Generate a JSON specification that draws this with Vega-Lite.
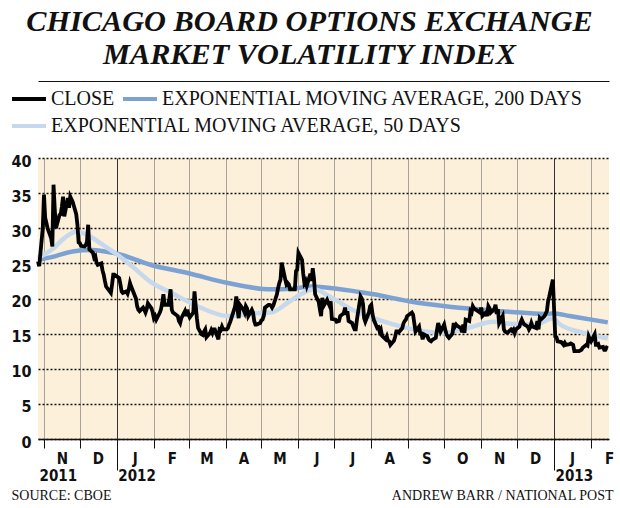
{
  "$schema": "https://vega.github.io/schema/vega-lite/v6.json",
  "width": 571,
  "height": 281,
  "padding": {"left": 10, "top": 6, "right": 6, "bottom": 6},
  "background": "white",
  "title": {
    "text": ["CHICAGO BOARD OPTIONS EXCHANGE", "MARKET VOLATILITY INDEX"],
    "font": "Liberation Serif",
    "fontSize": 30.3,
    "fontStyle": "italic",
    "fontWeight": "bold",
    "color": "#111111",
    "lineHeight": 33,
    "anchor": "middle",
    "dx": -14,
    "offset": 10
  },
  "config": {
    "view": {"fill": "#fdf0da", "stroke": null},
    "axis": {
      "labelFont": "Liberation Sans Narrow, DejaVu Sans Condensed, Roboto, sans-serif",
      "labelFontWeight": "bold",
      "labelColor": "#111111",
      "labelFlush": false,
      "labelOverlap": false,
      "labelBound": false
    },
    "legend": {
      "orient": "none",
      "direction": "horizontal",
      "title": null,
      "padding": 0,
      "symbolType": "stroke",
      "symbolStrokeWidth": 4,
      "symbolSize": 1150,
      "labelFont": "Liberation Serif",
      "labelFontSize": 20,
      "labelColor": "#111111",
      "labelOffset": 3,
      "labelLimit": 0,
      "columnPadding": 0
    }
  },
  "data": {
    "values": [
      {"date": "2011-10-27", "series": "close", "value": 25.3},
      {"date": "2011-10-28", "series": "close", "value": 24.6},
      {"date": "2011-10-31", "series": "close", "value": 30.0},
      {"date": "2011-11-01", "series": "close", "value": 34.8},
      {"date": "2011-11-02", "series": "close", "value": 31.5},
      {"date": "2011-11-03", "series": "close", "value": 30.8},
      {"date": "2011-11-04", "series": "close", "value": 30.0},
      {"date": "2011-11-07", "series": "close", "value": 28.6},
      {"date": "2011-11-08", "series": "close", "value": 27.4},
      {"date": "2011-11-09", "series": "close", "value": 36.2},
      {"date": "2011-11-10", "series": "close", "value": 32.8},
      {"date": "2011-11-11", "series": "close", "value": 30.0},
      {"date": "2011-11-14", "series": "close", "value": 31.9},
      {"date": "2011-11-15", "series": "close", "value": 32.0},
      {"date": "2011-11-16", "series": "close", "value": 33.1},
      {"date": "2011-11-17", "series": "close", "value": 34.5},
      {"date": "2011-11-18", "series": "close", "value": 31.7},
      {"date": "2011-11-21", "series": "close", "value": 34.3},
      {"date": "2011-11-22", "series": "close", "value": 32.9},
      {"date": "2011-11-23", "series": "close", "value": 34.5},
      {"date": "2011-11-25", "series": "close", "value": 33.8},
      {"date": "2011-11-28", "series": "close", "value": 32.0},
      {"date": "2011-11-29", "series": "close", "value": 30.5},
      {"date": "2011-11-30", "series": "close", "value": 28.0},
      {"date": "2011-12-01", "series": "close", "value": 27.9},
      {"date": "2011-12-02", "series": "close", "value": 27.5},
      {"date": "2011-12-05", "series": "close", "value": 27.4},
      {"date": "2011-12-06", "series": "close", "value": 27.6},
      {"date": "2011-12-07", "series": "close", "value": 28.1},
      {"date": "2011-12-08", "series": "close", "value": 30.5},
      {"date": "2011-12-09", "series": "close", "value": 27.0},
      {"date": "2011-12-12", "series": "close", "value": 26.5},
      {"date": "2011-12-13", "series": "close", "value": 25.8},
      {"date": "2011-12-14", "series": "close", "value": 26.0},
      {"date": "2011-12-15", "series": "close", "value": 25.1},
      {"date": "2011-12-16", "series": "close", "value": 24.8},
      {"date": "2011-12-19", "series": "close", "value": 25.0},
      {"date": "2011-12-20", "series": "close", "value": 24.0},
      {"date": "2011-12-21", "series": "close", "value": 23.4},
      {"date": "2011-12-22", "series": "close", "value": 22.5},
      {"date": "2011-12-23", "series": "close", "value": 21.7},
      {"date": "2011-12-27", "series": "close", "value": 20.8},
      {"date": "2011-12-28", "series": "close", "value": 22.0},
      {"date": "2011-12-29", "series": "close", "value": 23.4},
      {"date": "2011-12-30", "series": "close", "value": 23.4},
      {"date": "2012-01-03", "series": "close", "value": 22.9},
      {"date": "2012-01-04", "series": "close", "value": 22.0},
      {"date": "2012-01-05", "series": "close", "value": 21.0},
      {"date": "2012-01-06", "series": "close", "value": 20.8},
      {"date": "2012-01-09", "series": "close", "value": 21.0},
      {"date": "2012-01-10", "series": "close", "value": 20.7},
      {"date": "2012-01-11", "series": "close", "value": 21.3},
      {"date": "2012-01-12", "series": "close", "value": 22.2},
      {"date": "2012-01-13", "series": "close", "value": 21.7},
      {"date": "2012-01-17", "series": "close", "value": 20.0},
      {"date": "2012-01-18", "series": "close", "value": 18.9},
      {"date": "2012-01-19", "series": "close", "value": 18.4},
      {"date": "2012-01-20", "series": "close", "value": 18.2},
      {"date": "2012-01-23", "series": "close", "value": 18.7},
      {"date": "2012-01-24", "series": "close", "value": 18.4},
      {"date": "2012-01-25", "series": "close", "value": 18.0},
      {"date": "2012-01-26", "series": "close", "value": 18.5},
      {"date": "2012-01-27", "series": "close", "value": 19.3},
      {"date": "2012-01-30", "series": "close", "value": 18.6},
      {"date": "2012-01-31", "series": "close", "value": 18.0},
      {"date": "2012-02-01", "series": "close", "value": 17.2},
      {"date": "2012-02-02", "series": "close", "value": 17.5},
      {"date": "2012-02-03", "series": "close", "value": 17.0},
      {"date": "2012-02-06", "series": "close", "value": 18.0},
      {"date": "2012-02-07", "series": "close", "value": 18.5},
      {"date": "2012-02-08", "series": "close", "value": 19.4},
      {"date": "2012-02-09", "series": "close", "value": 20.6},
      {"date": "2012-02-10", "series": "close", "value": 19.1},
      {"date": "2012-02-13", "series": "close", "value": 19.1},
      {"date": "2012-02-14", "series": "close", "value": 20.0},
      {"date": "2012-02-15", "series": "close", "value": 21.3},
      {"date": "2012-02-16", "series": "close", "value": 18.4},
      {"date": "2012-02-17", "series": "close", "value": 18.0},
      {"date": "2012-02-21", "series": "close", "value": 17.5},
      {"date": "2012-02-22", "series": "close", "value": 16.8},
      {"date": "2012-02-23", "series": "close", "value": 16.5},
      {"date": "2012-02-24", "series": "close", "value": 17.2},
      {"date": "2012-02-27", "series": "close", "value": 18.2},
      {"date": "2012-02-28", "series": "close", "value": 17.5},
      {"date": "2012-02-29", "series": "close", "value": 18.4},
      {"date": "2012-03-01", "series": "close", "value": 17.7},
      {"date": "2012-03-02", "series": "close", "value": 17.3},
      {"date": "2012-03-05", "series": "close", "value": 18.0},
      {"date": "2012-03-06", "series": "close", "value": 21.0},
      {"date": "2012-03-07", "series": "close", "value": 19.0},
      {"date": "2012-03-08", "series": "close", "value": 17.2},
      {"date": "2012-03-09", "series": "close", "value": 15.8},
      {"date": "2012-03-12", "series": "close", "value": 14.9},
      {"date": "2012-03-13", "series": "close", "value": 14.8},
      {"date": "2012-03-14", "series": "close", "value": 15.3},
      {"date": "2012-03-15", "series": "close", "value": 15.6},
      {"date": "2012-03-16", "series": "close", "value": 14.5},
      {"date": "2012-03-19", "series": "close", "value": 15.1},
      {"date": "2012-03-20", "series": "close", "value": 15.5},
      {"date": "2012-03-21", "series": "close", "value": 15.1},
      {"date": "2012-03-22", "series": "close", "value": 15.6},
      {"date": "2012-03-23", "series": "close", "value": 15.6},
      {"date": "2012-03-26", "series": "close", "value": 14.2},
      {"date": "2012-03-27", "series": "close", "value": 15.6},
      {"date": "2012-03-28", "series": "close", "value": 15.5},
      {"date": "2012-03-29", "series": "close", "value": 16.0},
      {"date": "2012-03-30", "series": "close", "value": 15.6},
      {"date": "2012-04-02", "series": "close", "value": 15.6},
      {"date": "2012-04-03", "series": "close", "value": 15.8},
      {"date": "2012-04-04", "series": "close", "value": 16.3},
      {"date": "2012-04-05", "series": "close", "value": 16.7},
      {"date": "2012-04-09", "series": "close", "value": 18.9},
      {"date": "2012-04-10", "series": "close", "value": 20.3},
      {"date": "2012-04-11", "series": "close", "value": 18.5},
      {"date": "2012-04-12", "series": "close", "value": 17.2},
      {"date": "2012-04-13", "series": "close", "value": 19.1},
      {"date": "2012-04-16", "series": "close", "value": 18.4},
      {"date": "2012-04-17", "series": "close", "value": 18.0},
      {"date": "2012-04-18", "series": "close", "value": 18.9},
      {"date": "2012-04-19", "series": "close", "value": 18.6},
      {"date": "2012-04-20", "series": "close", "value": 17.5},
      {"date": "2012-04-23", "series": "close", "value": 18.4},
      {"date": "2012-04-24", "series": "close", "value": 18.0},
      {"date": "2012-04-25", "series": "close", "value": 16.8},
      {"date": "2012-04-26", "series": "close", "value": 16.3},
      {"date": "2012-04-27", "series": "close", "value": 16.3},
      {"date": "2012-04-30", "series": "close", "value": 16.5},
      {"date": "2012-05-01", "series": "close", "value": 16.9},
      {"date": "2012-05-02", "series": "close", "value": 17.0},
      {"date": "2012-05-03", "series": "close", "value": 17.5},
      {"date": "2012-05-04", "series": "close", "value": 18.7},
      {"date": "2012-05-07", "series": "close", "value": 19.1},
      {"date": "2012-05-08", "series": "close", "value": 19.1},
      {"date": "2012-05-09", "series": "close", "value": 19.0},
      {"date": "2012-05-10", "series": "close", "value": 18.7},
      {"date": "2012-05-11", "series": "close", "value": 19.0},
      {"date": "2012-05-14", "series": "close", "value": 20.6},
      {"date": "2012-05-15", "series": "close", "value": 21.5},
      {"date": "2012-05-16", "series": "close", "value": 22.2},
      {"date": "2012-05-17", "series": "close", "value": 22.7},
      {"date": "2012-05-18", "series": "close", "value": 25.1},
      {"date": "2012-05-21", "series": "close", "value": 22.7},
      {"date": "2012-05-22", "series": "close", "value": 22.0},
      {"date": "2012-05-23", "series": "close", "value": 22.2},
      {"date": "2012-05-24", "series": "close", "value": 22.0},
      {"date": "2012-05-25", "series": "close", "value": 21.3},
      {"date": "2012-05-29", "series": "close", "value": 21.3},
      {"date": "2012-05-30", "series": "close", "value": 23.9},
      {"date": "2012-05-31", "series": "close", "value": 24.1},
      {"date": "2012-06-01", "series": "close", "value": 26.5},
      {"date": "2012-06-04", "series": "close", "value": 25.5},
      {"date": "2012-06-05", "series": "close", "value": 23.6},
      {"date": "2012-06-06", "series": "close", "value": 22.2},
      {"date": "2012-06-07", "series": "close", "value": 22.5},
      {"date": "2012-06-08", "series": "close", "value": 21.8},
      {"date": "2012-06-11", "series": "close", "value": 23.5},
      {"date": "2012-06-12", "series": "close", "value": 22.5},
      {"date": "2012-06-13", "series": "close", "value": 24.3},
      {"date": "2012-06-14", "series": "close", "value": 22.9},
      {"date": "2012-06-15", "series": "close", "value": 20.6},
      {"date": "2012-06-18", "series": "close", "value": 19.5},
      {"date": "2012-06-19", "series": "close", "value": 18.4},
      {"date": "2012-06-20", "series": "close", "value": 17.5},
      {"date": "2012-06-21", "series": "close", "value": 20.1},
      {"date": "2012-06-22", "series": "close", "value": 18.9},
      {"date": "2012-06-25", "series": "close", "value": 19.8},
      {"date": "2012-06-26", "series": "close", "value": 19.4},
      {"date": "2012-06-27", "series": "close", "value": 19.0},
      {"date": "2012-06-28", "series": "close", "value": 19.6},
      {"date": "2012-06-29", "series": "close", "value": 17.1},
      {"date": "2012-07-02", "series": "close", "value": 17.0},
      {"date": "2012-07-03", "series": "close", "value": 16.7},
      {"date": "2012-07-05", "series": "close", "value": 16.8},
      {"date": "2012-07-06", "series": "close", "value": 17.5},
      {"date": "2012-07-09", "series": "close", "value": 17.9},
      {"date": "2012-07-10", "series": "close", "value": 18.7},
      {"date": "2012-07-11", "series": "close", "value": 17.7},
      {"date": "2012-07-12", "series": "close", "value": 18.2},
      {"date": "2012-07-13", "series": "close", "value": 16.8},
      {"date": "2012-07-16", "series": "close", "value": 16.5},
      {"date": "2012-07-17", "series": "close", "value": 16.0},
      {"date": "2012-07-18", "series": "close", "value": 15.6},
      {"date": "2012-07-19", "series": "close", "value": 15.6},
      {"date": "2012-07-20", "series": "close", "value": 17.0},
      {"date": "2012-07-23", "series": "close", "value": 20.3},
      {"date": "2012-07-24", "series": "close", "value": 20.0},
      {"date": "2012-07-25", "series": "close", "value": 19.3},
      {"date": "2012-07-26", "series": "close", "value": 17.2},
      {"date": "2012-07-27", "series": "close", "value": 16.7},
      {"date": "2012-07-30", "series": "close", "value": 18.0},
      {"date": "2012-07-31", "series": "close", "value": 18.9},
      {"date": "2012-08-01", "series": "close", "value": 19.1},
      {"date": "2012-08-02", "series": "close", "value": 17.8},
      {"date": "2012-08-03", "series": "close", "value": 17.0},
      {"date": "2012-08-06", "series": "close", "value": 15.8},
      {"date": "2012-08-07", "series": "close", "value": 15.9},
      {"date": "2012-08-08", "series": "close", "value": 15.3},
      {"date": "2012-08-09", "series": "close", "value": 15.6},
      {"date": "2012-08-10", "series": "close", "value": 14.7},
      {"date": "2012-08-13", "series": "close", "value": 14.2},
      {"date": "2012-08-14", "series": "close", "value": 14.6},
      {"date": "2012-08-15", "series": "close", "value": 14.0},
      {"date": "2012-08-16", "series": "close", "value": 13.9},
      {"date": "2012-08-17", "series": "close", "value": 13.4},
      {"date": "2012-08-20", "series": "close", "value": 14.0},
      {"date": "2012-08-21", "series": "close", "value": 14.6},
      {"date": "2012-08-22", "series": "close", "value": 15.3},
      {"date": "2012-08-23", "series": "close", "value": 15.3},
      {"date": "2012-08-24", "series": "close", "value": 15.2},
      {"date": "2012-08-27", "series": "close", "value": 15.8},
      {"date": "2012-08-28", "series": "close", "value": 16.5},
      {"date": "2012-08-29", "series": "close", "value": 16.8},
      {"date": "2012-08-30", "series": "close", "value": 17.0},
      {"date": "2012-08-31", "series": "close", "value": 17.5},
      {"date": "2012-09-04", "series": "close", "value": 18.0},
      {"date": "2012-09-05", "series": "close", "value": 17.7},
      {"date": "2012-09-06", "series": "close", "value": 16.5},
      {"date": "2012-09-07", "series": "close", "value": 15.3},
      {"date": "2012-09-10", "series": "close", "value": 16.0},
      {"date": "2012-09-11", "series": "close", "value": 15.0},
      {"date": "2012-09-12", "series": "close", "value": 15.0},
      {"date": "2012-09-13", "series": "close", "value": 14.2},
      {"date": "2012-09-14", "series": "close", "value": 14.9},
      {"date": "2012-09-17", "series": "close", "value": 14.6},
      {"date": "2012-09-18", "series": "close", "value": 14.2},
      {"date": "2012-09-19", "series": "close", "value": 14.0},
      {"date": "2012-09-20", "series": "close", "value": 13.9},
      {"date": "2012-09-21", "series": "close", "value": 14.1},
      {"date": "2012-09-24", "series": "close", "value": 14.4},
      {"date": "2012-09-25", "series": "close", "value": 15.5},
      {"date": "2012-09-26", "series": "close", "value": 16.5},
      {"date": "2012-09-27", "series": "close", "value": 15.9},
      {"date": "2012-09-28", "series": "close", "value": 15.3},
      {"date": "2012-10-01", "series": "close", "value": 16.3},
      {"date": "2012-10-02", "series": "close", "value": 15.5},
      {"date": "2012-10-03", "series": "close", "value": 14.9},
      {"date": "2012-10-04", "series": "close", "value": 14.6},
      {"date": "2012-10-05", "series": "close", "value": 14.4},
      {"date": "2012-10-08", "series": "close", "value": 15.0},
      {"date": "2012-10-09", "series": "close", "value": 16.5},
      {"date": "2012-10-10", "series": "close", "value": 16.0},
      {"date": "2012-10-11", "series": "close", "value": 16.3},
      {"date": "2012-10-12", "series": "close", "value": 16.1},
      {"date": "2012-10-15", "series": "close", "value": 15.8},
      {"date": "2012-10-16", "series": "close", "value": 15.2},
      {"date": "2012-10-17", "series": "close", "value": 16.3},
      {"date": "2012-10-18", "series": "close", "value": 15.1},
      {"date": "2012-10-19", "series": "close", "value": 17.0},
      {"date": "2012-10-22", "series": "close", "value": 16.8},
      {"date": "2012-10-23", "series": "close", "value": 18.2},
      {"date": "2012-10-24", "series": "close", "value": 18.0},
      {"date": "2012-10-25", "series": "close", "value": 18.9},
      {"date": "2012-10-26", "series": "close", "value": 18.6},
      {"date": "2012-10-31", "series": "close", "value": 18.0},
      {"date": "2012-11-01", "series": "close", "value": 18.7},
      {"date": "2012-11-02", "series": "close", "value": 17.5},
      {"date": "2012-11-05", "series": "close", "value": 18.0},
      {"date": "2012-11-06", "series": "close", "value": 17.5},
      {"date": "2012-11-07", "series": "close", "value": 18.9},
      {"date": "2012-11-08", "series": "close", "value": 18.6},
      {"date": "2012-11-09", "series": "close", "value": 18.0},
      {"date": "2012-11-12", "series": "close", "value": 18.5},
      {"date": "2012-11-13", "series": "close", "value": 19.1},
      {"date": "2012-11-14", "series": "close", "value": 17.8},
      {"date": "2012-11-15", "series": "close", "value": 18.5},
      {"date": "2012-11-16", "series": "close", "value": 16.5},
      {"date": "2012-11-19", "series": "close", "value": 17.5},
      {"date": "2012-11-20", "series": "close", "value": 15.6},
      {"date": "2012-11-21", "series": "close", "value": 15.3},
      {"date": "2012-11-23", "series": "close", "value": 15.1},
      {"date": "2012-11-26", "series": "close", "value": 15.6},
      {"date": "2012-11-27", "series": "close", "value": 15.4},
      {"date": "2012-11-28", "series": "close", "value": 15.6},
      {"date": "2012-11-29", "series": "close", "value": 15.1},
      {"date": "2012-11-30", "series": "close", "value": 15.6},
      {"date": "2012-12-03", "series": "close", "value": 16.0},
      {"date": "2012-12-04", "series": "close", "value": 16.6},
      {"date": "2012-12-05", "series": "close", "value": 17.0},
      {"date": "2012-12-06", "series": "close", "value": 16.6},
      {"date": "2012-12-07", "series": "close", "value": 16.3},
      {"date": "2012-12-10", "series": "close", "value": 16.0},
      {"date": "2012-12-11", "series": "close", "value": 15.6},
      {"date": "2012-12-12", "series": "close", "value": 15.9},
      {"date": "2012-12-13", "series": "close", "value": 16.5},
      {"date": "2012-12-14", "series": "close", "value": 16.0},
      {"date": "2012-12-17", "series": "close", "value": 15.8},
      {"date": "2012-12-18", "series": "close", "value": 16.8},
      {"date": "2012-12-19", "series": "close", "value": 15.6},
      {"date": "2012-12-20", "series": "close", "value": 17.2},
      {"date": "2012-12-21", "series": "close", "value": 17.0},
      {"date": "2012-12-24", "series": "close", "value": 17.5},
      {"date": "2012-12-26", "series": "close", "value": 18.2},
      {"date": "2012-12-27", "series": "close", "value": 19.6},
      {"date": "2012-12-28", "series": "close", "value": 20.3},
      {"date": "2012-12-31", "series": "close", "value": 22.7},
      {"date": "2013-01-02", "series": "close", "value": 14.6},
      {"date": "2013-01-03", "series": "close", "value": 14.5},
      {"date": "2013-01-04", "series": "close", "value": 13.9},
      {"date": "2013-01-07", "series": "close", "value": 13.8},
      {"date": "2013-01-08", "series": "close", "value": 13.6},
      {"date": "2013-01-09", "series": "close", "value": 13.4},
      {"date": "2013-01-10", "series": "close", "value": 13.7},
      {"date": "2013-01-11", "series": "close", "value": 13.4},
      {"date": "2013-01-14", "series": "close", "value": 13.5},
      {"date": "2013-01-15", "series": "close", "value": 13.6},
      {"date": "2013-01-16", "series": "close", "value": 13.5},
      {"date": "2013-01-17", "series": "close", "value": 13.4},
      {"date": "2013-01-18", "series": "close", "value": 12.5},
      {"date": "2013-01-22", "series": "close", "value": 12.5},
      {"date": "2013-01-23", "series": "close", "value": 12.6},
      {"date": "2013-01-24", "series": "close", "value": 12.7},
      {"date": "2013-01-25", "series": "close", "value": 13.0},
      {"date": "2013-01-28", "series": "close", "value": 13.4},
      {"date": "2013-01-29", "series": "close", "value": 13.3},
      {"date": "2013-01-30", "series": "close", "value": 14.6},
      {"date": "2013-01-31", "series": "close", "value": 14.2},
      {"date": "2013-02-01", "series": "close", "value": 13.9},
      {"date": "2013-02-04", "series": "close", "value": 14.9},
      {"date": "2013-02-05", "series": "close", "value": 13.4},
      {"date": "2013-02-06", "series": "close", "value": 13.4},
      {"date": "2013-02-07", "series": "close", "value": 13.5},
      {"date": "2013-02-08", "series": "close", "value": 13.0},
      {"date": "2013-02-11", "series": "close", "value": 13.1},
      {"date": "2013-02-12", "series": "close", "value": 12.7},
      {"date": "2013-02-13", "series": "close", "value": 12.7},
      {"date": "2013-02-14", "series": "close", "value": 13.0},
      {"date": "2013-02-15", "series": "close", "value": 12.9},
      {"date": "2011-10-27", "series": "ema200", "value": 25.5},
      {"date": "2011-11-10", "series": "ema200", "value": 26.0},
      {"date": "2011-11-25", "series": "ema200", "value": 26.7},
      {"date": "2011-12-10", "series": "ema200", "value": 26.9},
      {"date": "2011-12-22", "series": "ema200", "value": 26.7},
      {"date": "2012-01-03", "series": "ema200", "value": 26.3},
      {"date": "2012-01-29", "series": "ema200", "value": 24.8},
      {"date": "2012-03-01", "series": "ema200", "value": 23.6},
      {"date": "2012-04-03", "series": "ema200", "value": 22.2},
      {"date": "2012-05-09", "series": "ema200", "value": 21.3},
      {"date": "2012-05-26", "series": "ema200", "value": 21.4},
      {"date": "2012-06-12", "series": "ema200", "value": 21.7},
      {"date": "2012-07-03", "series": "ema200", "value": 21.4},
      {"date": "2012-08-03", "series": "ema200", "value": 20.6},
      {"date": "2012-09-05", "series": "ema200", "value": 19.5},
      {"date": "2012-10-02", "series": "ema200", "value": 18.9},
      {"date": "2012-11-03", "series": "ema200", "value": 18.4},
      {"date": "2012-12-04", "series": "ema200", "value": 18.0},
      {"date": "2012-12-27", "series": "ema200", "value": 17.8},
      {"date": "2012-12-31", "series": "ema200", "value": 17.9},
      {"date": "2013-01-14", "series": "ema200", "value": 17.5},
      {"date": "2013-02-15", "series": "ema200", "value": 16.6},
      {"date": "2011-10-27", "series": "ema50", "value": 25.8},
      {"date": "2011-11-08", "series": "ema50", "value": 27.0},
      {"date": "2011-11-18", "series": "ema50", "value": 28.6},
      {"date": "2011-11-28", "series": "ema50", "value": 29.5},
      {"date": "2011-12-07", "series": "ema50", "value": 29.1},
      {"date": "2011-12-18", "series": "ema50", "value": 27.9},
      {"date": "2012-01-01", "series": "ema50", "value": 26.3},
      {"date": "2012-01-15", "series": "ema50", "value": 24.4},
      {"date": "2012-01-29", "series": "ema50", "value": 22.4},
      {"date": "2012-02-18", "series": "ema50", "value": 20.6},
      {"date": "2012-03-11", "series": "ema50", "value": 18.7},
      {"date": "2012-04-03", "series": "ema50", "value": 17.5},
      {"date": "2012-04-25", "series": "ema50", "value": 17.9},
      {"date": "2012-05-09", "series": "ema50", "value": 18.0},
      {"date": "2012-05-23", "series": "ema50", "value": 19.4},
      {"date": "2012-06-03", "series": "ema50", "value": 20.6},
      {"date": "2012-06-14", "series": "ema50", "value": 21.3},
      {"date": "2012-06-26", "series": "ema50", "value": 20.4},
      {"date": "2012-07-16", "series": "ema50", "value": 18.4},
      {"date": "2012-08-10", "series": "ema50", "value": 16.8},
      {"date": "2012-09-05", "series": "ema50", "value": 15.6},
      {"date": "2012-09-30", "series": "ema50", "value": 15.1},
      {"date": "2012-10-23", "series": "ema50", "value": 15.9},
      {"date": "2012-11-11", "series": "ema50", "value": 16.7},
      {"date": "2012-11-25", "series": "ema50", "value": 16.4},
      {"date": "2012-12-17", "series": "ema50", "value": 16.3},
      {"date": "2012-12-31", "series": "ema50", "value": 17.2},
      {"date": "2013-01-06", "series": "ema50", "value": 16.3},
      {"date": "2013-01-26", "series": "ema50", "value": 15.1},
      {"date": "2013-02-15", "series": "ema50", "value": 14.3}
    ]
  },
  "encoding": {
    "y": {
      "field": "value",
      "type": "quantitative",
      "scale": {"domain": [0, 40], "nice": false, "zero": true},
      "axis": {
        "values": [0, 5, 10, 15, 20, 25, 30, 35, 40],
        "title": null,
        "domain": false,
        "ticks": false,
        "grid": true,
        "gridColor": "#111111",
        "gridDash": [2, 2],
        "gridWidth": 1.5,
        "labelPadding": 7,
        "labelFontSize": 16,
        "labelOffset": 3
      }
    }
  },
  "layer": [
    {
      "transform": [{"filter": "datum.series == 'ema200'"}],
      "mark": {"type": "line", "strokeWidth": 4.5, "interpolate": "monotone"},
      "encoding": {
        "x": {
          "field": "date",
          "type": "temporal",
          "scale": {"type": "utc", "domain": [{"year": 2011, "month": 10, "date": 27, "utc": true}, {"year": 2013, "month": 2, "date": 16, "utc": true}]},
          "axis": {
            "orient": "top",
            "offset": 77,
            "domain": true,
            "domainColor": "#111111",
            "domainWidth": 1.2,
            "labels": false,
            "ticks": false,
            "grid": false,
            "title": null
          }
        },
        "color": {
          "field": "series",
          "type": "nominal",
          "scale": {"domain": ["close", "ema200"], "range": ["#000000", "#7ca2d4"]},
          "legend": {
            "legendX": -28,
            "legendY": -78,
            "labelExpr": "datum.label == 'close' ? 'CLOSE' : 'EXPONENTIAL MOVING AVERAGE, 200 DAYS'"
          }
        }
      }
    },
    {
      "transform": [{"filter": "datum.series == 'ema50'"}],
      "mark": {"type": "line", "strokeWidth": 4.5, "interpolate": "monotone"},
      "encoding": {
        "x": {
          "field": "date",
          "type": "temporal",
          "scale": {"type": "utc", "domain": [{"year": 2011, "month": 10, "date": 27, "utc": true}, {"year": 2013, "month": 2, "date": 16, "utc": true}]},
          "axis": {
            "orient": "bottom",
            "values": [
              {"year": 2011, "month": 10, "date": 27, "utc": true},
              {"year": 2012, "month": 1, "date": 1, "utc": true},
              {"year": 2013, "month": 1, "date": 1, "utc": true}
            ],
            "labelExpr": "utcFormat(datum.value, '%Y')",
            "labelAlign": "left",
            "labelBaseline": "top",
            "labelOffset": 1,
            "labelPadding": -2,
            "labelFontSize": 15,
            "tickSize": 31,
            "tickColor": "#111111",
            "tickWidth": 1,
            "tickOpacity": {"condition": {"test": "utcyear(datum.value) < 2012", "value": 0}, "value": 1},
            "domain": false,
            "grid": false,
            "title": "SOURCE: CBOE",
            "titleFont": "Liberation Serif",
            "titleFontSize": 14,
            "titleFontWeight": "normal",
            "titleColor": "#111111",
            "titleAlign": "left",
            "titleAnchor": "start",
            "titleBaseline": "alphabetic",
            "titleX": -27,
            "titleY": 60
          }
        },
        "stroke": {
          "field": "series",
          "type": "nominal",
          "scale": {"domain": ["ema50"], "range": ["#c6d8ee"]},
          "legend": {
            "legendX": -28,
            "legendY": -51,
            "labelExpr": "'EXPONENTIAL MOVING AVERAGE, 50 DAYS'"
          }
        }
      }
    },
    {
      "transform": [{"filter": "datum.series == 'close'"}],
      "mark": {"type": "line", "strokeWidth": 3.8},
      "encoding": {
        "x": {
          "field": "date",
          "type": "temporal",
          "scale": {"type": "utc", "domain": [{"year": 2011, "month": 10, "date": 27, "utc": true}, {"year": 2013, "month": 2, "date": 16, "utc": true}]},
          "axis": {
            "orient": "bottom",
            "values": [
              {"year": 2011, "month": 11, "date": 1, "utc": true},
              {"year": 2011, "month": 12, "date": 1, "utc": true},
              {"year": 2012, "month": 1, "date": 1, "utc": true},
              {"year": 2012, "month": 2, "date": 1, "utc": true},
              {"year": 2012, "month": 3, "date": 1, "utc": true},
              {"year": 2012, "month": 4, "date": 1, "utc": true},
              {"year": 2012, "month": 5, "date": 1, "utc": true},
              {"year": 2012, "month": 6, "date": 1, "utc": true},
              {"year": 2012, "month": 7, "date": 1, "utc": true},
              {"year": 2012, "month": 8, "date": 1, "utc": true},
              {"year": 2012, "month": 9, "date": 1, "utc": true},
              {"year": 2012, "month": 10, "date": 1, "utc": true},
              {"year": 2012, "month": 11, "date": 1, "utc": true},
              {"year": 2012, "month": 12, "date": 1, "utc": true},
              {"year": 2013, "month": 1, "date": 1, "utc": true},
              {"year": 2013, "month": 2, "date": 1, "utc": true}
            ],
            "labelExpr": "substring(utcFormat(datum.value, '%B'), 0, 1)",
            "labelAlign": "center",
            "labelOffset": 18,
            "labelPadding": 3,
            "labelFontSize": 15,
            "tickSize": 9,
            "tickColor": "#111111",
            "tickWidth": 1,
            "domain": true,
            "domainColor": "#111111",
            "domainWidth": 1.5,
            "grid": true,
            "gridColor": {"condition": {"test": "utcmonth(datum.value) === 0", "value": "#333333"}, "value": "#a9a398"},
            "gridWidth": 1,
            "title": "ANDREW BARR / NATIONAL POST",
            "titleFont": "Liberation Serif",
            "titleFontSize": 14,
            "titleFontWeight": "normal",
            "titleColor": "#111111",
            "titleAlign": "right",
            "titleAnchor": "end",
            "titleBaseline": "alphabetic",
            "titleX": 575,
            "titleY": 60
          }
        },
        "color": {
          "field": "series",
          "type": "nominal",
          "scale": {"domain": ["close", "ema200"], "range": ["#000000", "#7ca2d4"]},
          "legend": {
            "legendX": -28,
            "legendY": -78,
            "labelExpr": "datum.label == 'close' ? 'CLOSE' : 'EXPONENTIAL MOVING AVERAGE, 200 DAYS'"
          }
        }
      }
    }
  ],
  "resolve": {"axis": {"x": "independent"}}
}
